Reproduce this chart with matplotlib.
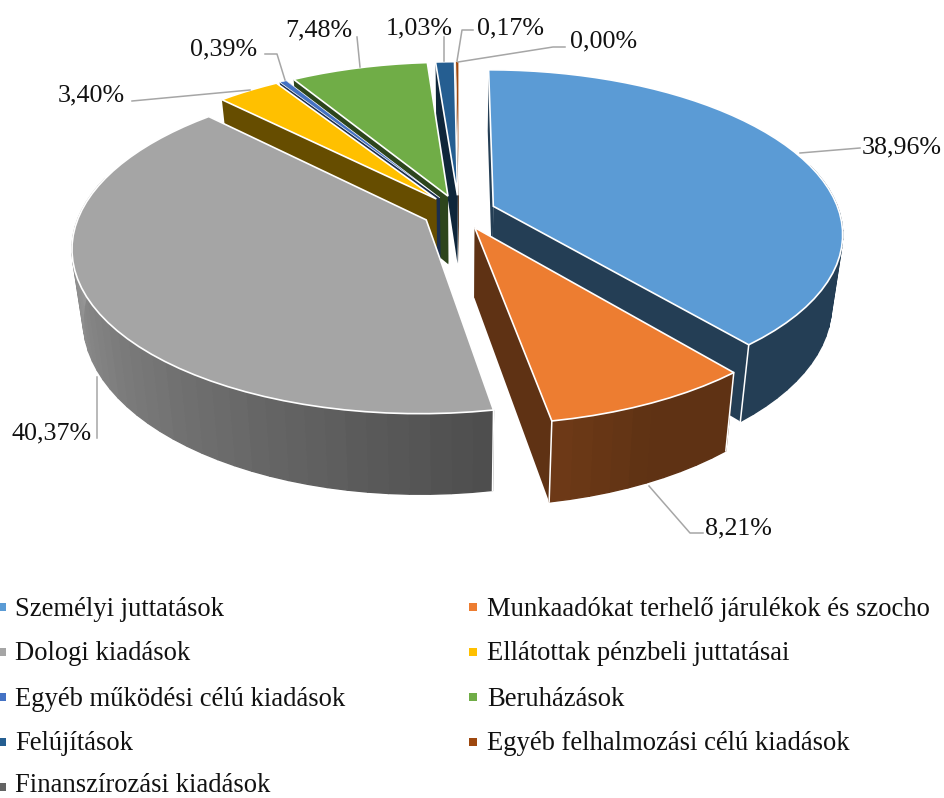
import numpy as np
import matplotlib
matplotlib.use('Agg')
import matplotlib.pyplot as plt

plt.rcParams['font.family'] = ['Liberation Serif', 'DejaVu Serif']

# Chart data
categories = ['Személyi juttatások', 'Munkaadókat terhelő járulékok és szocho', 'Dologi kiadások',
              'Ellátottak pénzbeli juttatásai', 'Egyéb működési célú kiadások', 'Beruházások',
              'Felújítások', 'Egyéb felhalmozási célú kiadások', 'Finanszírozási kiadások']
values = [38.96, 8.21, 40.37, 3.40, 0.39, 7.48, 1.03, 0.17, 0.00]
value_labels = ['38,96%', '8,21%', '40,37%', '3,40%', '0,39%', '7,48%', '1,03%', '0,17%', '0,00%']
colors = ['#5B9BD5', '#ED7D31', '#A5A5A5', '#FFC000', '#4472C4', '#70AD47', '#255E91', '#9E480E', '#636363']

# Where the value labels and their leader lines sit (pixels)
label_pos = [(862, 147), (705, 528), (11, 433), (58, 95), (190, 49), (285, 30), (386, 28), (477, 28), (570, 41)]
leaders = [[(800, 153), (860, 148)],
           [(649, 486), (690, 533), (703, 533)],
           [(97, 377), (97, 438)],
           [(132, 101), (250, 90)],
           [(265, 54), (277, 54), (285, 80)],
           [(357, 37), (360, 67)],
           [(444, 37), (444, 61)],
           [(473, 30), (462, 30), (457, 61)],
           [(565, 47), (553, 47), (458, 62)]]

# Camera of the fake 3D pie
cx, cy = 459, 212
rx, ry = 346, 160
persp = 0.16
explode = 0.106
draw_order = [7, 6, 5, 4, 3, 0, 2, 1]  # back to front


def project(x, y):
    # top surface: world disc to screen
    w = 1 + persp * y
    return cx + rx * x / w, cy - ry * y / w


def lower(sx, sy):
    # bottom surface sits below and slightly closer to the centre
    return cx + (sx - cx) * 0.971, 298 + (sy - 228) * 1.057


def shade(base, deg):
    # side walls get lighter as they turn to the left
    f = np.clip(0.4 + (deg - 155) * 0.0045, 0.4, 0.95)
    return np.array(matplotlib.colors.to_rgb(base)) * f


def front(deg):
    # rim only shows on the part of the circle facing the viewer
    return 75 <= deg <= 285


fig = plt.figure(figsize=(9.44, 7.98), dpi=100)
ax = fig.add_axes([0, 0, 1, 1])
ax.set_xlim(0, 944)
ax.set_ylim(798, 0)
ax.axis('off')

shares = np.array(values) / sum(values) * 360
ends = np.cumsum(shares)
starts = ends - shares

for i in draw_order:
    a0, a1 = starts[i], ends[i]
    mid = np.radians((a0 + a1) / 2)
    ox, oy = explode * np.sin(mid), explode * np.cos(mid)
    degs = np.linspace(a0, a1, max(3, int((a1 - a0) / 3) + 2))
    sx, sy = project(ox + np.sin(np.radians(degs)), oy + np.cos(np.radians(degs)))
    ax_, ay_ = project(ox, oy)
    bx, by = lower(sx, sy)
    bax, bay = lower(ax_, ay_)
    dark = shade(colors[i], 0)
    thin = shares[i] < 3

    # the two cut walls
    ax.fill([ax_, sx[0], bx[0], bax], [ay_, sy[0], by[0], bay], color=dark, lw=0)
    ax.fill([ax_, sx[-1], bx[-1], bax], [ay_, sy[-1], by[-1], bay], color=dark, lw=0)
    # outer rim, cut into strips for the gradient
    for j in range(len(degs) - 1):
        deg = (degs[j] + degs[j + 1]) / 2
        if front(deg):
            c = shade(colors[i], deg)
            ax.fill([sx[j], sx[j + 1], bx[j + 1], bx[j]], [sy[j], sy[j + 1], by[j + 1], by[j]],
                    facecolor=c, edgecolor=c, lw=1.0)
    for k in [0, -1]:
        if front(degs[k]):
            ax.plot([sx[k], bx[k]], [sy[k], by[k]], color='white', lw=1.1)
    # top face
    ax.fill(np.r_[ax_, sx], np.r_[ay_, sy], facecolor=colors[i], edgecolor='white',
            lw=0.5 if thin else 1.2, joinstyle='miter')

for line in leaders:
    xs, ys = zip(*line)
    ax.plot(xs, ys, color='#A6A6A6', lw=1.1)

for text, (x, y) in zip(value_labels, label_pos):
    ax.text(x, y, text, fontsize=18.7, color='#111111', va='center', ha='left')

# Legend, two columns filled row by row
for i, name in enumerate(categories):
    col, row = i % 2, i // 2
    ty = 609 + row * 45
    if row == 4:
        ty -= 4  # keep the last row inside the figure
    ax.scatter([2 + col * 471], [607 + row * 45], marker='s', s=38, color=colors[i], lw=0, clip_on=True)
    ax.text(15 + col * 472, ty, name, fontsize=19.15, color='#111111', va='center', ha='left')

fig.savefig('out.png', dpi=100)
